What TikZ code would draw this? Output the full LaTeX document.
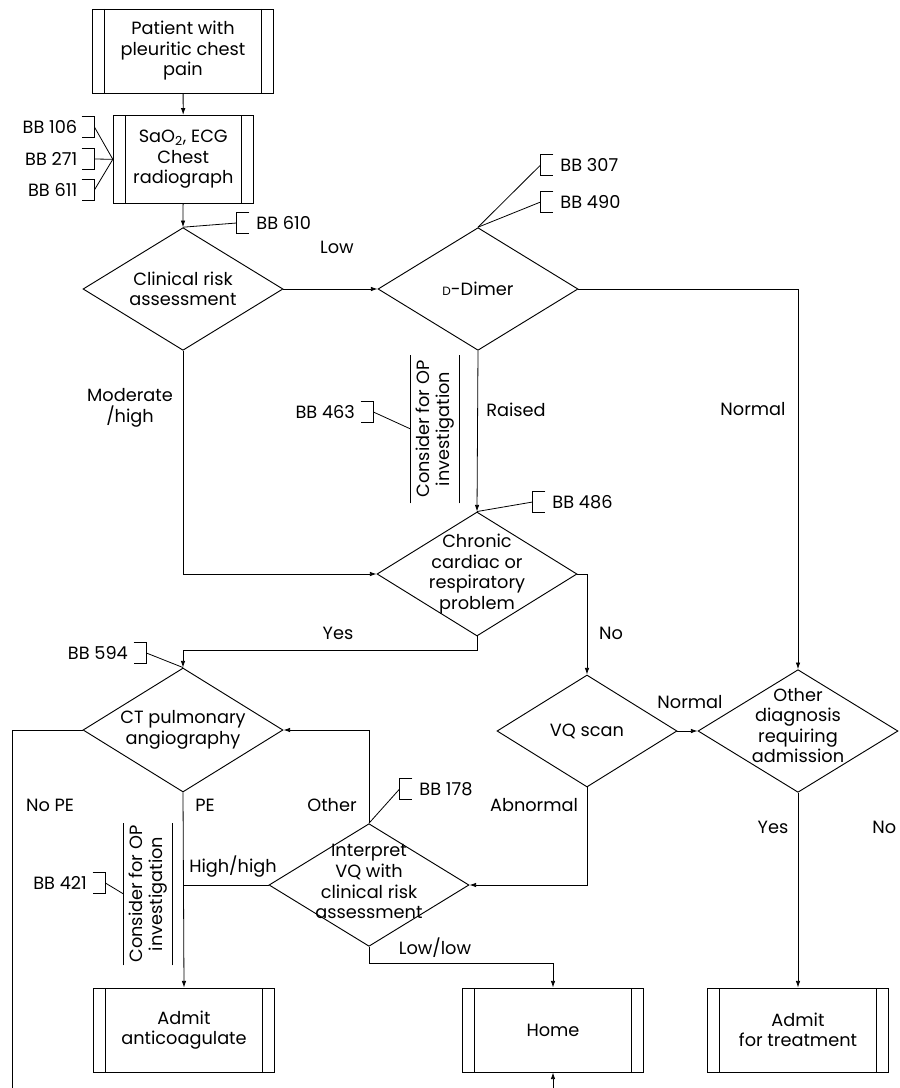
\documentclass[tikz,border=0pt]{standalone}
\usepackage{fontspec}
\setmainfont{Poppins}
\usetikzlibrary{shapes.geometric,arrows.meta}

\tikzset{
  termbox/.style={draw, line width=0.7pt, rectangle, minimum width=135.75pt, minimum height=63pt, inner sep=0pt, align=center,
    path picture={
      \draw ([xshift=9pt]path picture bounding box.north west) -- ([xshift=9pt]path picture bounding box.south west);
      \draw ([xshift=-9pt]path picture bounding box.north east) -- ([xshift=-9pt]path picture bounding box.south east);}},
  decision/.style={draw, line width=0.7pt, diamond, minimum width=150pt, minimum height=92pt, inner sep=0pt},
  bbtag/.style={minimum width=9pt, minimum height=15.5pt, inner sep=0pt},
  opnote/.style={rotate=90, minimum width=111pt, minimum height=36pt, inner sep=0pt, align=center},
  lbl/.style={inner sep=0pt, align=center},
}

\begin{document}
\begin{tikzpicture}[x=0.75pt, y=-0.75pt, line width=0.6pt,
    >={Latex[length=5pt,width=3.4pt]},
    every node/.style={font=\fontsize{13.3pt}{15.4pt}\selectfont},
    every label/.style={inner sep=0pt}]
\useasboundingbox (0,0) rectangle (899,1088);

% Boxes
\node[termbox] (pat) at (183,51) {Patient with\\pleuritic chest\\pain};
\node[termbox, minimum width=105pt, minimum height=66pt] (sao) at (183.3,159.3) {SaO\textsubscript{2}, ECG\\Chest\\radiograph};
\node[termbox] (admit) at (184,1030) {Admit\\anticoagulate};
\node[termbox] (home) at (553,1030) {Home};
\node[termbox] (treat) at (798,1030) {Admit\\for treatment};

% Decisions
\node[decision, label={[align=center]center:Clinical risk\\assessment}] (clin) at (183,289) {};
\node[decision, label={center:{\fontsize{9pt}{10pt}\selectfont D}-Dimer}] (ddim) at (478,289) {};
\node[decision, minimum height=93pt, label={[align=center]center:Chronic\\cardiac or\\respiratory\\problem}] (chron) at (477,574) {};
\node[decision, minimum height=93pt, label={[align=center]center:CT pulmonary\\angiography}] (ct) at (183,730) {};
\node[decision, minimum width=135pt, minimum height=84pt, label={center:VQ scan}] (vq) at (587,731) {};
\node[decision, label={[align=center,yshift=4pt]center:Other\\diagnosis\\requiring\\admission}] (other) at (798,731) {};
\node[decision, label={[align=center,yshift=2.5pt]center:Interpret\\VQ with\\clinical risk\\assessment}] (interp) at (369,885) {};

% Consider for OP notes
\node[opnote] (op1) at (435,429) {Consider for OP\\investigation};
\node[opnote, minimum width=106.5pt] (op2) at (148,894) {Consider for OP\\investigation};
\draw (op1.north west) -- (op1.north east);
\draw (op1.south west) -- (op1.south east);
\draw (op2.north west) -- (op2.north east);
\draw (op2.south west) -- (op2.south east);

% BB references
\node[bbtag, label={[label distance=3pt]left:BB 106}] (b106) at (88,127) {};
\node[bbtag, label={[label distance=3pt]left:BB 271}] (b271) at (88,159) {};
\node[bbtag, label={[label distance=3pt]left:BB 611}] (b611) at (88,190) {};
\node[bbtag, label={[label distance=5pt]right:BB 610}] (b610) at (243,223) {};
\node[bbtag, label={[label distance=5pt]right:BB 307}] (b307) at (547,165) {};
\node[bbtag, label={[label distance=5pt]right:BB 490}] (b490) at (547,202) {};
\node[bbtag, label={[label distance=4pt]left:BB 463}] (b463) at (367,412) {};
\node[bbtag, label={[label distance=5pt]right:BB 486}] (b486) at (539,502) {};
\node[bbtag, label={[label distance=4pt]left:BB 594}] (b594) at (140,653) {};
\node[bbtag, label={[label distance=4pt]left:BB 421}] (b421) at (99,883) {};
\node[bbtag, label={[label distance=5pt]right:BB 178}] (b178) at (406,789) {};
\foreach \t in {b106,b271,b611,b463,b594,b421}
  \draw (\t.north west) -- (\t.north east) -- (\t.south east) -- (\t.south west);
\foreach \t in {b610,b307,b490,b486,b178}
  \draw (\t.north east) -- (\t.north west) -- (\t.south west) -- (\t.south east);

\draw (b106.east) -- (sao.west);
\draw (b271.east) -- (sao.west);
\draw (b611.east) -- (sao.west);
\draw (clin.north) -- (b610.west);
\draw (ddim.north) -- (b307.west);
\draw (ddim.north) -- (b490.west);
\draw (b463.east) -- (op1.north);
\draw (chron.north) -- (b486.west);
\draw (b594.east) -- (ct.north);
\draw (b421.east) -- (op2.north);
\draw (interp.north) -- (b178.west);

% Branch labels
\node[lbl] (lowlbl) at (337,247) {Low};
\node[lbl] (modlbl) at (130,408) {Moderate\\/high};
\node[lbl] (raislbl) at (516,410) {Raised};
\node[lbl] (normlbl) at (753,409) {Normal};
\node[lbl] (yeslbl) at (338,633) {Yes};
\node[lbl] (nolbl) at (611,633) {No};
\node[lbl] (vqnormlbl) at (690,702) {Normal};
\node[lbl] (nopelbl) at (50,805) {No PE};
\node[lbl] (pelbl) at (205,805) {PE};
\node[lbl] (othlbl) at (332,805) {Other};
\node[lbl] (abnlbl) at (534,805) {Abnormal};
\node[lbl] (highlbl) at (233,867) {High/high};
\node[lbl] (lowlowlbl) at (435,948) {Low/low};
\node[lbl] (admyeslbl) at (773,827) {Yes};
\node[lbl, anchor=west] (admnolbl) at (872,827) {No};

% Connectors
\coordinate (nopeend) at (12,1092);
\coordinate (homein) at (553,1092);
\draw[->] (pat) -- (sao);
\draw[->] (sao) -- (clin.north);
\draw[->] (clin.east) -- (ddim.west);
\draw[->] (clin.south) |- (chron.west);
\draw[->] (ddim.south) -- (chron.north);
\draw[->] (ddim.east) -| (other.north);
\draw[->] (chron.south) -- ++(0,14) -| (ct.north);
\draw[->] (chron.east) -| (vq.north);
\draw[->] (vq.east) -- (other.west);
\draw[->] (vq.south) |- (interp.east);
\draw[->] (interp.north) |- (ct.east);
\draw (interp.west) -- (interp.west -| ct.south);
\draw[->] (ct.south) -- (admit.north);
\draw (ct.west) -| (nopeend);
\draw[->] (interp.south) -- ++(0,17) -| (home.north);
\draw[->] (homein) -- (home.south);
\draw[->] (other.south) -- (treat.north);
\end{tikzpicture}
\end{document}
